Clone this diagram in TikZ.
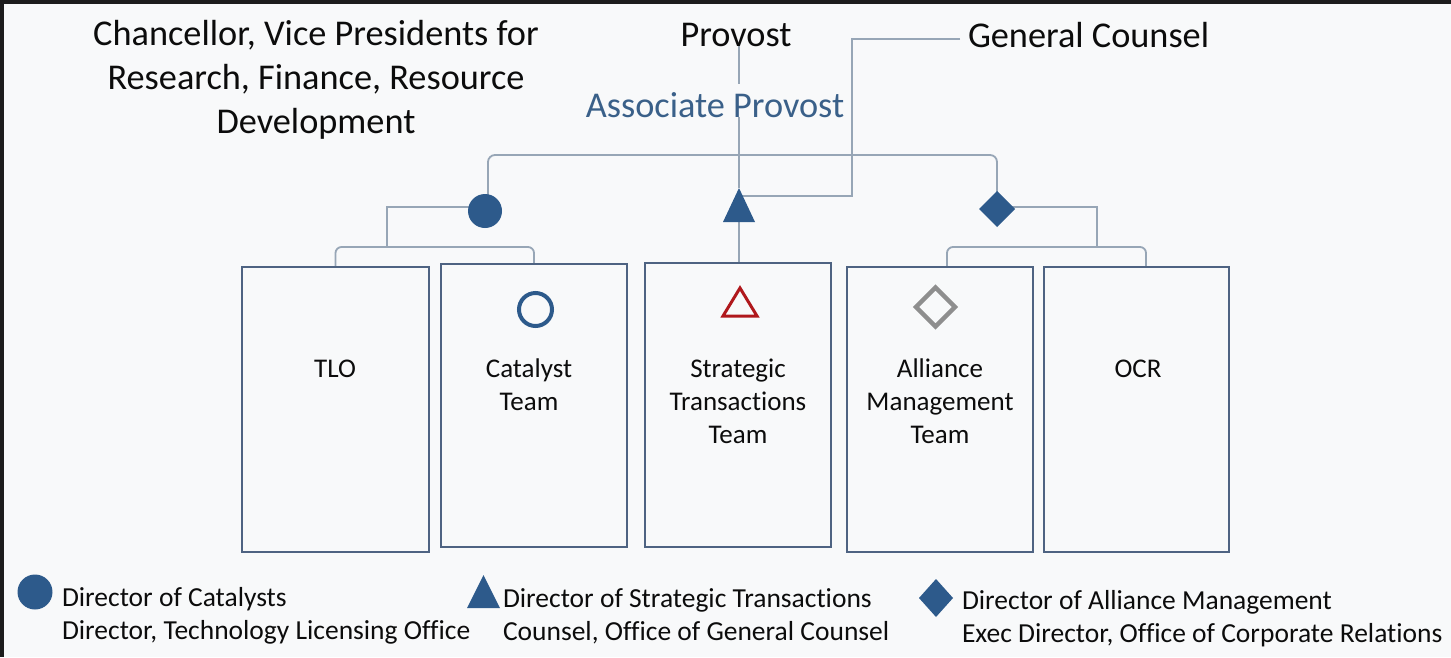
\documentclass[tikz,border=0pt]{standalone}
\usepackage{fontspec}
\setmainfont{Carlito}[Ligatures={NoCommon,NoContextual}]
\usetikzlibrary{shapes.geometric,calc}
\pgfdeclarelayer{back}
\pgfdeclarelayer{wires}
\pgfsetlayers{back,wires,main}

\definecolor{navy}{HTML}{2D5A8B}
\definecolor{apblue}{HTML}{3A6089}
\definecolor{boxline}{HTML}{4E6382}
\definecolor{wire}{HTML}{97A6B6}
\definecolor{tred}{HTML}{B0181C}
\definecolor{dgray}{HTML}{8E8E8E}
\definecolor{paper}{HTML}{F8F9FA}
\definecolor{frame}{HTML}{1C1C1C}
\definecolor{ink}{HTML}{0C0C0C}

\begin{document}
\begin{tikzpicture}[x=1pt,y=-1pt,
  toptxt/.style={font=\fontsize{36.3}{44}\selectfont, inner sep=0pt, outer sep=0pt, text=ink},
  boxtxt/.style={font=\fontsize{27}{33}\selectfont, inner sep=0pt, outer sep=0pt, text=ink, align=center, anchor=base},
  legtxt/.style={font=\fontsize{27.5}{33}\selectfont, inner sep=0pt, outer sep=0pt, text=ink, align=left, anchor=base west},
  unit/.style={draw=boxline, line width=2pt, fill=paper, inner sep=0pt, outer sep=0pt},
  sym/.style={inner sep=0pt, outer sep=0pt},
  trinode/.style={inner sep=0pt, outer sep=0pt, rectangle},
  conn/.style={draw=wire, line width=1.8pt},
]
% page, with the dark frame along the top and left edges
\begin{pgfonlayer}{back}
\fill[paper] (0,0) rectangle (1451,657);
\fill[frame] (0,0) rectangle (1451,4);
\fill[frame] (0,0) rectangle (4,657);
\end{pgfonlayer}
\useasboundingbox (0,0) rectangle (1451,657);

% heads (multi-line nodes sit on the baseline of their last line)
\node[toptxt, align=center, anchor=base] (chan) at (316,133)
  {Chancellor, Vice Presidents for\\Research, Finance, Resource\\Development};
\node[toptxt, anchor=base] (prov) at (736,46) {Provost};
\node[toptxt, anchor=base west] (gc) at (968,47) {General Counsel};
\node[toptxt, text=apblue, anchor=base] (ap) at (715,117) {Associate Provost};

% director symbols
\node[sym, circle, fill=navy, minimum size=34pt] (dc) at (485,211) {};
\node[sym, diamond, fill=navy, minimum width=36pt, minimum height=36pt] (dd) at (997,209) {};
\node[trinode, minimum width=32pt, minimum height=34pt] (dt) at (739,205) {};
\fill[navy] (dt.north) -- (dt.south west) -- (dt.south east) -- cycle;

% units
\node[unit, minimum width=187pt, minimum height=285pt] (tlo) at (335.5,409.5) {};
\node[unit, minimum width=186pt, minimum height=283pt] (cat) at (534,405.5) {};
\node[unit, minimum width=186pt, minimum height=284pt] (st)  at (738,405) {};
\node[unit, minimum width=186pt, minimum height=285pt] (am)  at (940,409.5) {};
\node[unit, minimum width=185pt, minimum height=285pt] (ocr) at (1136.5,409.5) {};

\node[boxtxt] (tlo-t) at (335,377) {TLO};
\node[boxtxt] (cat-t) at (529,410) {Catalyst\\Team};
\node[boxtxt] (st-t)  at (738,443) {Strategic\\Transactions\\Team};
\node[boxtxt] (am-t)  at (940,443) {Alliance\\Management\\Team};
\node[boxtxt] (ocr-t) at (1138,377) {OCR};

% team marks inside the units
\node[sym, circle, draw=navy, line width=4pt, minimum size=33pt] (cat-m) at (535.5,309.5) {};
\node[trinode, minimum width=34pt, minimum height=28pt] (st-m) at (740,302) {};
\draw[tred, line width=3pt, line join=miter] (st-m.north) -- (st-m.south west) -- (st-m.south east) -- cycle;
\node[sym, diamond, draw=dgray, line width=4.5pt, minimum width=39pt, minimum height=39pt] (am-m) at (935.5,307) {};

% reporting lines
\coordinate (topbar) at (740,155);
\coordinate (cjoin) at (387,207);
\coordinate (cbar) at (387,247);
\coordinate (djoin) at (1097,207);
\coordinate (dbar) at (1097,247);
\coordinate (gcx) at (852,39);
\coordinate (gcy) at (852,196);
\begin{pgfonlayer}{wires}
  \draw[conn] (dt.north |- prov.south) -- ([yshift=8pt]dt.north |- ap.north);
  \draw[conn] (dt.north |- ap.south) -- (dt.north);
  \draw[conn] (dt.south) -- (dt.south |- st.north);
  \draw[conn] ([xshift=-8pt]gc.west |- gcx) -- (gcx) -- (gcy) -- ($(dt.north)+(0,8)$);
  \draw[conn, rounded corners=7pt] ([xshift=3pt]dc.center) |- (topbar) -| (dd.center);
  \draw[conn] (dc.center |- cjoin) -| (cbar);
  \draw[conn, rounded corners=6pt] (tlo.north) |- (cbar) -| (cat.north);
  \draw[conn] (dd.center |- djoin) -| (dbar);
  \draw[conn, rounded corners=6pt] ([xshift=7pt]am.north) |- (dbar) -| ([xshift=9.5pt]ocr.north);
\end{pgfonlayer}

% legend
\node[sym, circle, fill=navy, minimum size=35pt] (lc) at (35,592) {};
\node[legtxt] (lc-t) at (62,639) {Director of Catalysts\\Director, Technology Licensing Office};
\node[trinode, minimum width=33pt, minimum height=33pt] (lt) at (483.5,591.5) {};
\fill[navy] (lt.north) -- (lt.south west) -- (lt.south east) -- cycle;
\node[legtxt] (lt-t) at (503,640) {Director of Strategic Transactions\\Counsel, Office of General Counsel};
\node[sym, diamond, fill=navy, minimum width=34pt, minimum height=38pt] (ld) at (936,598) {};
\node[legtxt] (ld-t) at (962,642) {Director of Alliance Management\\Exec Director, Office of Corporate Relations};
\end{tikzpicture}
\end{document}
